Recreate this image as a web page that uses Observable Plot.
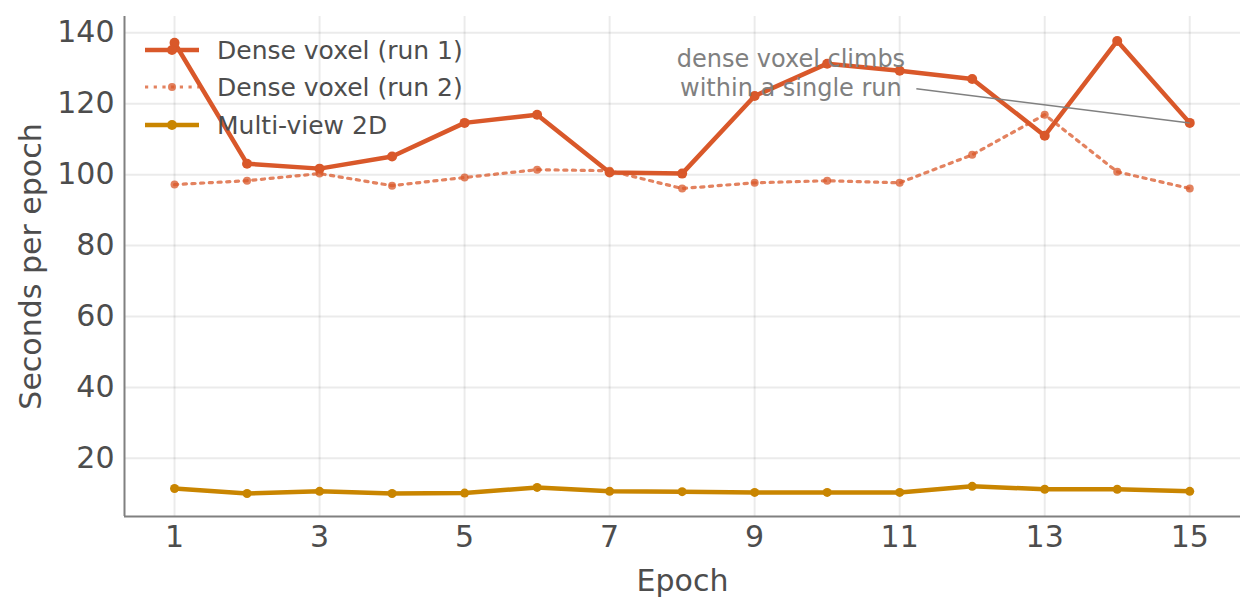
<!DOCTYPE html>
<html><head><meta charset="utf-8">
<script src="https://cdn.jsdelivr.net/npm/d3@7"></script>
<script src="https://cdn.jsdelivr.net/npm/@observablehq/plot@0.6"></script>
<style>
body{margin:0;background:#fff;font-family:"DejaVu Sans",sans-serif;}
#wrap{position:relative;width:1257px;height:613px;}
#legend{position:absolute;left:0;top:0;pointer-events:none;}
</style></head><body><div id="wrap"></div>
<script>
const epochs = [1,2,3,4,5,6,7,8,9,10,11,12,13,14,15];
const run1 = [137.2,103.1,101.7,105.1,114.6,116.9,100.6,100.3,122.2,131.3,129.3,127.0,111.0,137.7,114.6];
const run2 = [97.2,98.3,100.3,96.9,99.2,101.4,101.1,96.1,97.7,98.3,97.7,105.6,116.9,100.8,96.1];
const multiview = [11.5,10.1,10.7,10.1,10.2,11.8,10.7,10.6,10.4,10.4,10.4,12.1,11.3,11.3,10.7];
const seriesNames = ["Dense voxel (run 1)","Dense voxel (run 2)","Multi-view 2D"];
const seriesColors = ["#d9582a","#d9582a","#c98500"];
const xTicks = [1,3,5,7,9,11,13,15];
const yTicks = [20,40,60,80,100,120,140];
const noteText = "dense voxel climbs\nwithin a single run";
const noteAt = {x: 9.5, y: 129};
const noteLink = {x1: 11.23, y1: 124.2, x2: 15, y2: 114.6};

const rows = (vals, s) => vals.map((v,i) => ({epoch: epochs[i], value: v, series: s}));
const d1 = rows(run1, seriesNames[0]);
const d2 = rows(run2, seriesNames[1]);
const d3m = rows(multiview, seriesNames[2]);
const xDom = [0.31, 15.7], yDom = [3.6, 144.6];

const chart = Plot.plot({
  width: 1257, height: 613,
  marginLeft: 124, marginRight: 17, marginTop: 16, marginBottom: 97,
  style: {fontFamily: "DejaVu Sans", fontSize: "30px", color: "#4d4d4d", background: "#fff"},
  x: {domain: xDom},
  y: {domain: yDom},
  marks: [
    Plot.gridX(xTicks, {stroke: "#000", strokeOpacity: 0.08, strokeWidth: 2}),
    Plot.gridY(yTicks, {stroke: "#000", strokeOpacity: 0.08, strokeWidth: 2}),
    Plot.axisX(xTicks, {tickSize: 0, tickPadding: 9, fontSize: 30, label: "Epoch", labelArrow: "none", labelAnchor: "center", labelOffset: 74, tickFormat: d => d}),
    Plot.axisY(yTicks, {tickSize: 0, tickPadding: 10, fontSize: 30, label: "Seconds per epoch", labelAnchor: "center", labelOffset: 105, labelArrow: "none", tickFormat: d => d}),
    Plot.ruleX([xDom[0]], {stroke: "#808080", strokeWidth: 2}),
    Plot.ruleY([yDom[0]], {stroke: "#808080", strokeWidth: 2}),
    Plot.line(d3m, {x: "epoch", y: "value", stroke: seriesColors[2], strokeWidth: 4.5}),
    Plot.dot(d3m, {x: "epoch", y: "value", fill: seriesColors[2], r: 4.5}),
    Plot.line(d2, {x: "epoch", y: "value", stroke: seriesColors[1], strokeOpacity: 0.75, strokeWidth: 3.2, strokeDasharray: "3.2,5.5"}),
    Plot.dot(d2, {x: "epoch", y: "value", fill: seriesColors[1], fillOpacity: 0.75, r: 4}),
    Plot.line(d1, {x: "epoch", y: "value", stroke: seriesColors[0], strokeWidth: 4.5}),
    Plot.dot(d1, {x: "epoch", y: "value", fill: seriesColors[0], r: 5}),
    Plot.link([noteLink], {x1: "x1", y1: "y1", x2: "x2", y2: "y2", stroke: "#808080", strokeWidth: 1.5}),
    Plot.text([noteAt], {x: "x", y: "y", text: () => noteText, fill: "#808080", fontSize: 24, lineHeight: 1.22, textAnchor: "middle"})
  ]
});
document.getElementById("wrap").appendChild(chart);

// legend overlay
const leg = d3.select("#wrap").append("svg").attr("id","legend").attr("width",520).attr("height",150)
  .style("font-family","DejaVu Sans");
const legY = [50, 87, 125];
seriesNames.forEach((name, i) => {
  const g = leg.append("g").attr("transform", `translate(0,${legY[i]})`);
  const ln = g.append("line").attr("x1",145).attr("x2",199).attr("y1",0).attr("y2",0)
    .attr("stroke", seriesColors[i]).attr("stroke-width", i===1 ? 3.2 : 4.5);
  if (i===1) ln.attr("stroke-dasharray","3.2,5.5").attr("stroke-opacity",0.75);
  g.append("circle").attr("cx",172).attr("cy",0).attr("r", i===1 ? 4 : 5)
    .attr("fill", seriesColors[i]).attr("fill-opacity", i===1 ? 0.75 : 1);
  g.append("text").attr("x",217).attr("y",0).attr("dy","0.35em").attr("font-size",25).attr("fill","#4d4d4d").text(name);
});
</script></body></html>
